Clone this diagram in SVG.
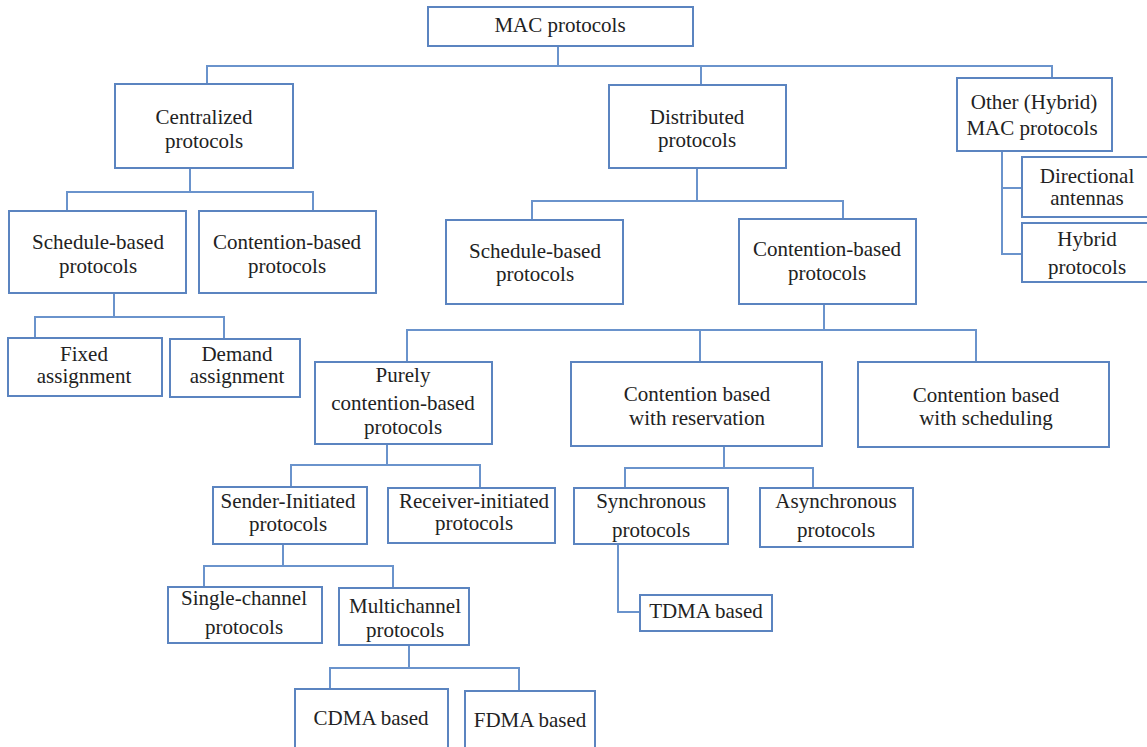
<svg xmlns="http://www.w3.org/2000/svg" width="1147" height="747" viewBox="0 0 1147 747">
<style>
.box{fill:#ffffff;stroke:#5b84c0;stroke-width:2}
.t{font-family:"Liberation Serif","Times New Roman",serif;font-size:21px;fill:#222222;text-anchor:middle}
.c{fill:none;stroke:#6a93cc;stroke-width:2}
</style>
<rect width="1147" height="747" fill="#ffffff"/>
<g id="connectors">
<path class="c" d="M558,46V66M207,84V66H1052V78M701,66V85"/>
<path class="c" d="M190,168V192M67,211V192H313V211"/>
<path class="c" d="M114,293V317M35,338V317H224V339"/>
<path class="c" d="M697,168V201M532,220V201H843V219"/>
<path class="c" d="M1002,151V254H1022M1002,188H1022"/>
<path class="c" d="M824,304V330M407,362V330H976V362M700,330V362"/>
<path class="c" d="M387,444V465M291,487V465H480V488"/>
<path class="c" d="M724,446V468M625,488V468H813V488"/>
<path class="c" d="M283,544V566M204,587V566H393V588"/>
<path class="c" d="M409,645V668M330,689V668H519V691"/>
<path class="c" d="M618,544V612H640"/>
</g>
<g id="mac"><rect class="box" x="428" y="7" width="265" height="39"/><text class="t" x="560" y="32">MAC protocols</text></g>
<g id="centralized"><rect class="box" x="115" y="84" width="178" height="84"/><text class="t" x="204" y="124">Centralized</text><text class="t" x="204" y="148">protocols</text></g>
<g id="distributed"><rect class="box" x="609" y="85" width="177" height="83"/><text class="t" x="697" y="124">Distributed</text><text class="t" x="697" y="147">protocols</text></g>
<g id="other"><rect class="box" x="957" y="78" width="155" height="73"/><text class="t" x="1034" y="109">Other (Hybrid)</text><text class="t" x="1032" y="135">MAC protocols</text></g>
<g id="c-schedule"><rect class="box" x="9" y="211" width="177" height="82"/><text class="t" x="98" y="249">Schedule-based</text><text class="t" x="98" y="273">protocols</text></g>
<g id="c-contention"><rect class="box" x="199" y="211" width="177" height="82"/><text class="t" x="287" y="249">Contention-based</text><text class="t" x="287" y="273">protocols</text></g>
<g id="fixed"><rect class="box" x="8" y="338" width="154" height="58"/><text class="t" x="84" y="361">Fixed</text><text class="t" x="84" y="383">assignment</text></g>
<g id="demand"><rect class="box" x="170" y="339" width="130" height="58"/><text class="t" x="237" y="361">Demand</text><text class="t" x="237" y="383">assignment</text></g>
<g id="d-schedule"><rect class="box" x="446" y="220" width="177" height="84"/><text class="t" x="535" y="258">Schedule-based</text><text class="t" x="535" y="281">protocols</text></g>
<g id="d-contention"><rect class="box" x="739" y="219" width="177" height="85"/><text class="t" x="827" y="256">Contention-based</text><text class="t" x="827" y="280">protocols</text></g>
<g id="directional"><rect class="box" x="1022" y="157" width="130" height="60"/><text class="t" x="1087" y="183">Directional</text><text class="t" x="1087" y="205">antennas</text></g>
<g id="hybrid"><rect class="box" x="1022" y="223" width="130" height="59"/><text class="t" x="1087" y="246">Hybrid</text><text class="t" x="1087" y="274">protocols</text></g>
<g id="purely"><rect class="box" x="315" y="362" width="177" height="82"/><text class="t" x="403" y="382">Purely</text><text class="t" x="403" y="410">contention-based</text><text class="t" x="403" y="434">protocols</text></g>
<g id="reservation"><rect class="box" x="571" y="362" width="251" height="84"/><text class="t" x="697" y="401">Contention based</text><text class="t" x="697" y="425">with reservation</text></g>
<g id="scheduling"><rect class="box" x="858" y="362" width="251" height="85"/><text class="t" x="986" y="402">Contention based</text><text class="t" x="986" y="425">with scheduling</text></g>
<g id="sender"><rect class="box" x="213" y="487" width="154" height="57"/><text class="t" x="288" y="508">Sender-Initiated</text><text class="t" x="288" y="531">protocols</text></g>
<g id="receiver"><rect class="box" x="388" y="488" width="167" height="55"/><text class="t" x="474" y="508">Receiver-initiated</text><text class="t" x="474" y="530">protocols</text></g>
<g id="synchronous"><rect class="box" x="574" y="488" width="154" height="56"/><text class="t" x="651" y="508">Synchronous</text><text class="t" x="651" y="537">protocols</text></g>
<g id="asynchronous"><rect class="box" x="760" y="488" width="153" height="59"/><text class="t" x="836" y="508">Asynchronous</text><text class="t" x="836" y="537">protocols</text></g>
<g id="tdma"><rect class="box" x="640" y="595" width="132" height="36"/><text class="t" x="706" y="618">TDMA based</text></g>
<g id="single"><rect class="box" x="168" y="587" width="154" height="56"/><text class="t" x="244" y="605">Single-channel</text><text class="t" x="244" y="634">protocols</text></g>
<g id="multi"><rect class="box" x="339" y="588" width="130" height="57"/><text class="t" x="405" y="613">Multichannel</text><text class="t" x="405" y="637">protocols</text></g>
<g id="cdma"><rect class="box" x="295" y="689" width="153" height="60"/><text class="t" x="371" y="725">CDMA based</text></g>
<g id="fdma"><rect class="box" x="465" y="691" width="130" height="58"/><text class="t" x="530" y="727">FDMA based</text></g>
</svg>
